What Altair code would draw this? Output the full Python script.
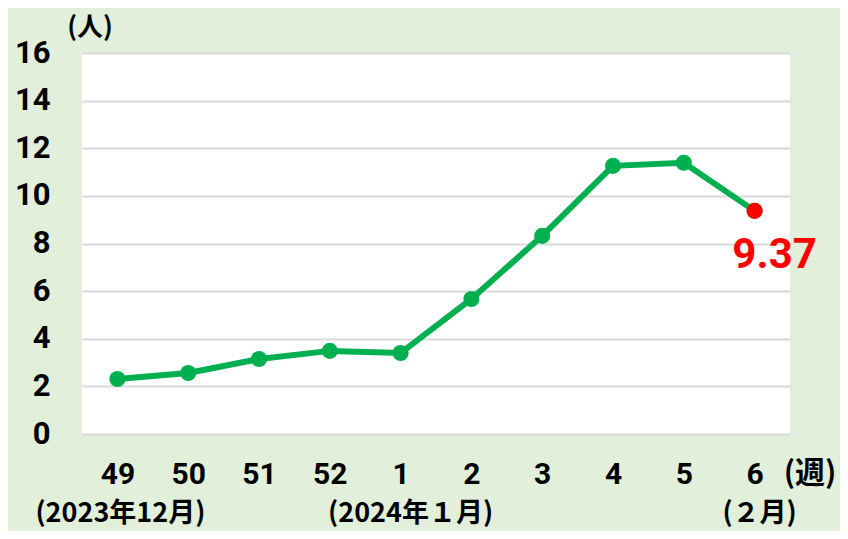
import altair as alt
import pandas as pd

weeks = ["49", "50", "51", "52", "1", "2", "3", "4", "5", "6"]
values = [2.31, 2.56, 3.15, 3.49, 3.40, 5.67, 8.32, 11.26, 11.39, 9.37]
last_label = "9.37"
y_ticks = [0, 2, 4, 6, 8, 10, 12, 14, 16]
month_labels = ["(2023年12月)", "(2024年１月)", "(２月)"]
month_weeks = ["49", "1", "6"]
month_dx = [3, 10, 5]

df = pd.DataFrame({"week": weeks, "value": values})
df_last = df.tail(1).assign(label=last_label)

NUM_FONT = "Roboto"
JP_FONT = "Noto Sans CJK JP"

x_enc = alt.X("week:N", sort=weeks,
              axis=alt.Axis(title=None, labelAngle=0, domain=False, ticks=False, grid=False,
                            labelFont=NUM_FONT, labelFontSize=30, labelFontWeight="bold",
                            labelColor="black", labelPadding=40, labelBaseline="middle"))
y_enc = alt.Y("value:Q", scale=alt.Scale(domain=[0, 16], nice=False),
              axis=alt.Axis(title=None, values=y_ticks, domain=False, ticks=False,
                            grid=True, gridColor="#D9D9D9", gridWidth=2,
                            labelFont=NUM_FONT, labelFontSize=31, labelFontWeight="bold",
                            labelColor="black", labelPadding=32))

base = alt.Chart(df)
line = base.mark_line(color="#00B050", strokeWidth=6).encode(x=x_enc, y=y_enc)
points = base.mark_point(filled=True, color="#00B050", size=260, opacity=1).encode(x=x_enc, y=y_enc)
red = alt.Chart(df_last).mark_point(filled=True, color="#FF0000", size=260, opacity=1).encode(x=x_enc, y=y_enc)
red_label = alt.Chart(df_last).mark_text(color="#FF0000", font=NUM_FONT, fontSize=42, fontWeight="bold",
                                         dx=20, dy=44, baseline="middle").encode(x=x_enc, y=y_enc, text="label:N")

months = []
for w, lab, dx in zip(month_weeks, month_labels, month_dx):
    months.append(alt.Chart(pd.DataFrame({"week": [w], "label": [lab]})).mark_text(
        font=JP_FONT, fontSize=27, fontWeight="bold", color="black", dx=dx, baseline="middle"
    ).encode(x=x_enc, y=alt.value(461), text="label:N"))

unit_y = alt.Chart(pd.DataFrame({"t": ["(人)"]})).mark_text(
    font=JP_FONT, fontSize=26, fontWeight="bold", color="black", baseline="middle"
).encode(x=alt.value(8), y=alt.value(-25), text="t:N")
unit_x = alt.Chart(pd.DataFrame({"t": ["(週)"]})).mark_text(
    font=JP_FONT, fontSize=30, fontWeight="bold", color="black", baseline="middle"
).encode(x=alt.value(728), y=alt.value(421), text="t:N")

chart = alt.layer(line, points, red, red_label, *months, unit_y, unit_x).properties(
    width=708, height=381,
    background="#E2EFDA",
    padding={"left": 74, "top": 45, "right": 50, "bottom": 97},
    autosize=alt.AutoSizeParams(type="none"),
).configure_view(stroke=None, fill="white")

chart.save("out.html", embed_options={"renderer": "svg", "actions": False})
